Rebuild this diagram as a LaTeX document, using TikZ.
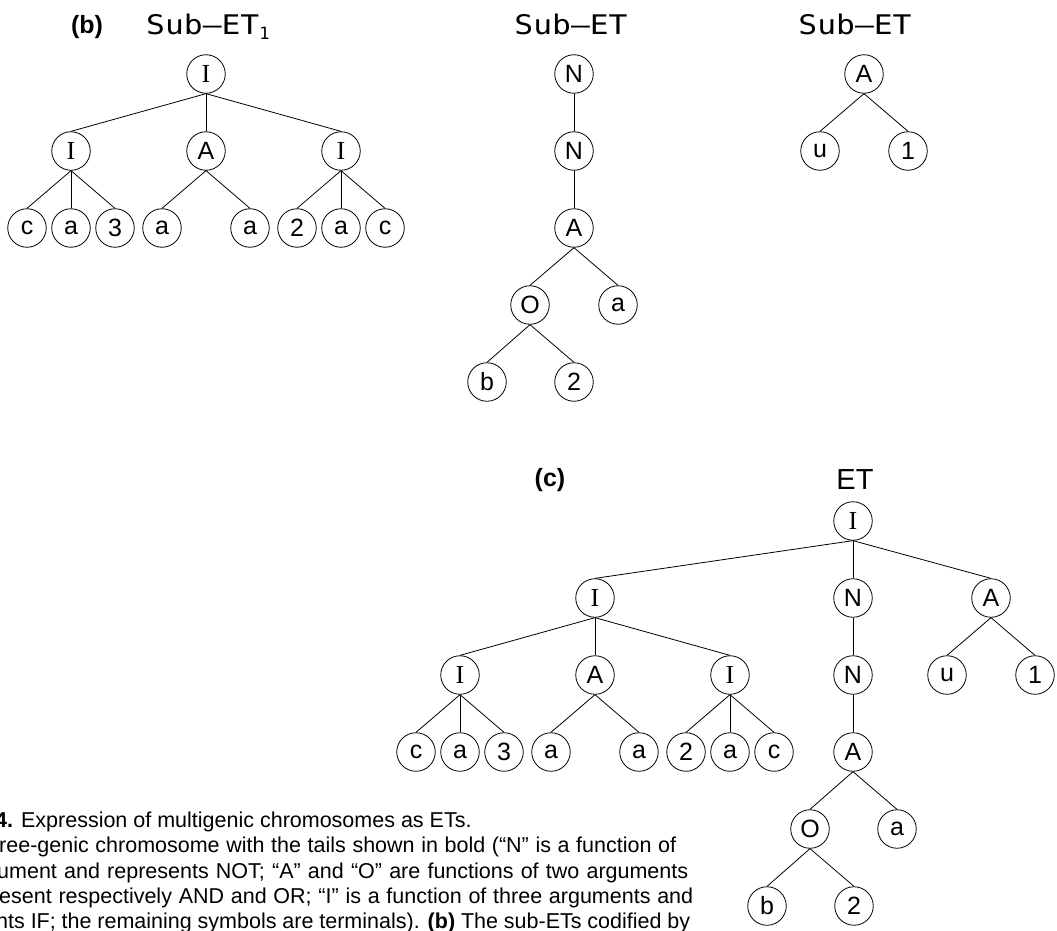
\documentclass[tikz,border=0pt]{standalone}
\usepackage{fontspec}
\usepackage{graphicx}
\usepackage{tikz}
\setmainfont{Liberation Sans}
\newfontfamily\serifI{Liberation Serif}
\newfontfamily\monoET{DejaVu Sans Mono}

\begin{document}
\begin{tikzpicture}[x=1pt,y=-1pt,
    vtx/.style={draw,circle,minimum size=38.5pt,line width=0.8pt,font=\fontsize{25}{25}\selectfont},
    ivtx/.style={vtx,font=\serifI\fontsize{26}{26}\selectfont},
    subttl/.style={anchor=base,font=\monoET\fontsize{27}{27}\selectfont},
    tag/.style={anchor=base,font=\bfseries\fontsize{25}{25}\selectfont},
    capline/.style={anchor=base west,font=\fontsize{21.5}{21.5}\selectfont}]
    \tikzstyle{every node}+=[inner sep=0pt]
    \useasboundingbox (0,0) rectangle (1057,931);
    \clip (0,0) rectangle (1057,931);
    % (b) the three sub-ETs
    \node [tag] (tagb) at (87,34) {(b)};
    \node [subttl,anchor=base west] (ttl1) at (146,35) {\scalebox{1.16}[1]{Sub–ET}\raisebox{-5pt}{\fontsize{17}{17}\selectfont 1}};
    \node [subttl] (ttl2) at (571,35) {\scalebox{1.16}[1]{Sub–ET}};
    \node [subttl] (ttl3) at (855,35) {\scalebox{1.16}[1]{Sub–ET}};
    % sub-ET 1
    \node [ivtx] (s1r) at (206,74) {I};
    \node [ivtx] (s1i) at (71,151) {I};
    \node [vtx] (s1a) at (206,151) {A};
    \node [ivtx] (s1j) at (341,151) {I};
    \node [vtx] (s1l1) at (27,228) {c};
    \node [vtx] (s1l2) at (71,228) {a};
    \node [vtx] (s1l3) at (115,228) {3};
    \node [vtx] (s1l4) at (162,228) {a};
    \node [vtx] (s1l5) at (250,228) {a};
    \node [vtx] (s1l6) at (297,228) {2};
    \node [vtx] (s1l7) at (341,228) {a};
    \node [vtx] (s1l8) at (385,228) {c};
    \foreach \p/\c in {s1r/s1i,s1r/s1a,s1r/s1j,s1i/s1l1,s1i/s1l2,s1i/s1l3,
        s1a/s1l4,s1a/s1l5,s1j/s1l6,s1j/s1l7,s1j/s1l8}
        \draw [line width=0.8pt] (\p.south) -- (\c.north);
    % sub-ET 2
    \node [vtx] (s2n) at (574,74) {N};
    \node [vtx] (s2m) at (574,151) {N};
    \node [vtx] (s2a) at (574,228) {A};
    \node [vtx] (s2o) at (530,305) {O};
    \node [vtx] (s2x) at (618,305) {a};
    \node [vtx] (s2b) at (487,382) {b};
    \node [vtx] (s2t) at (574,382) {2};
    \foreach \p/\c in {s2n/s2m,s2m/s2a,s2a/s2o,s2a/s2x,s2o/s2b,s2o/s2t}
        \draw [line width=0.8pt] (\p.south) -- (\c.north);
    % sub-ET 3
    \node [vtx] (s3a) at (864,74) {A};
    \node [vtx] (s3u) at (820,151) {u};
    \node [vtx] (s3o) at (908,151) {1};
    \foreach \c in {s3u,s3o}
        \draw [line width=0.8pt] (s3a.south) -- (\c.north);
    % (c) the whole ET
    \node [tag] (tagc) at (550,486) {(c)};
    \node [anchor=base,font=\fontsize{29}{29}\selectfont] (ttl4) at (855,489) {ET};
    \node [ivtx] (er) at (853,521) {I};
    \node [ivtx] (e1) at (595,598) {I};
    \node [vtx] (e2) at (853,598) {N};
    \node [vtx] (e3) at (991,598) {A};
    \node [ivtx] (e1i) at (460,675) {I};
    \node [vtx] (e1a) at (595,675) {A};
    \node [ivtx] (e1j) at (730,675) {I};
    \node [vtx] (e2n) at (853,675) {N};
    \node [vtx] (e3u) at (947,675) {u};
    \node [vtx] (e3o) at (1035,675) {1};
    \node [vtx] (el1) at (416,752) {c};
    \node [vtx] (el2) at (460,752) {a};
    \node [vtx] (el3) at (504,752) {3};
    \node [vtx] (el4) at (551,752) {a};
    \node [vtx] (el5) at (639,752) {a};
    \node [vtx] (el6) at (686,752) {2};
    \node [vtx] (el7) at (730,752) {a};
    \node [vtx] (el8) at (774,752) {c};
    \node [vtx] (e2a) at (853,752) {A};
    \node [vtx] (e2o) at (810,829) {O};
    \node [vtx] (e2x) at (897,829) {a};
    \node [vtx] (e2b) at (767,906) {b};
    \node [vtx] (e2t) at (854,906) {2};
    \foreach \p/\c in {er/e1,er/e2,er/e3,e1/e1i,e1/e1a,e1/e1j,e2/e2n,e3/e3u,e3/e3o,
        e1i/el1,e1i/el2,e1i/el3,e1a/el4,e1a/el5,e1j/el6,e1j/el7,e1j/el8,
        e2n/e2a,e2a/e2o,e2a/e2x,e2o/e2b,e2o/e2t}
        \draw [line width=0.8pt] (\p.south) -- (\c.north);
    % caption
    \node [capline] (cap1) at (-5,827) {\textbf{4.} Expression of multigenic chromosomes as ETs.};
    \node [capline] (cap2) at (-1,852.5) {\makebox[677pt][s]{ree-genic chromosome with the tails shown in bold (“N” is a function of}};
    \node [capline] (cap3) at (-3,878) {\makebox[691pt][s]{ument and represents NOT; “A” and “O” are functions of two arguments}};
    \node [capline] (cap4) at (-1,903) {\makebox[694pt][s]{esent respectively AND and OR; “I” is a function of three arguments and}};
    \node [capline] (cap5) at (-4,928.5) {\makebox[694pt][s]{nts IF; the remaining symbols are terminals). \textbf{(b)} The sub-ETs codified by}};
\end{tikzpicture}
\end{document}
